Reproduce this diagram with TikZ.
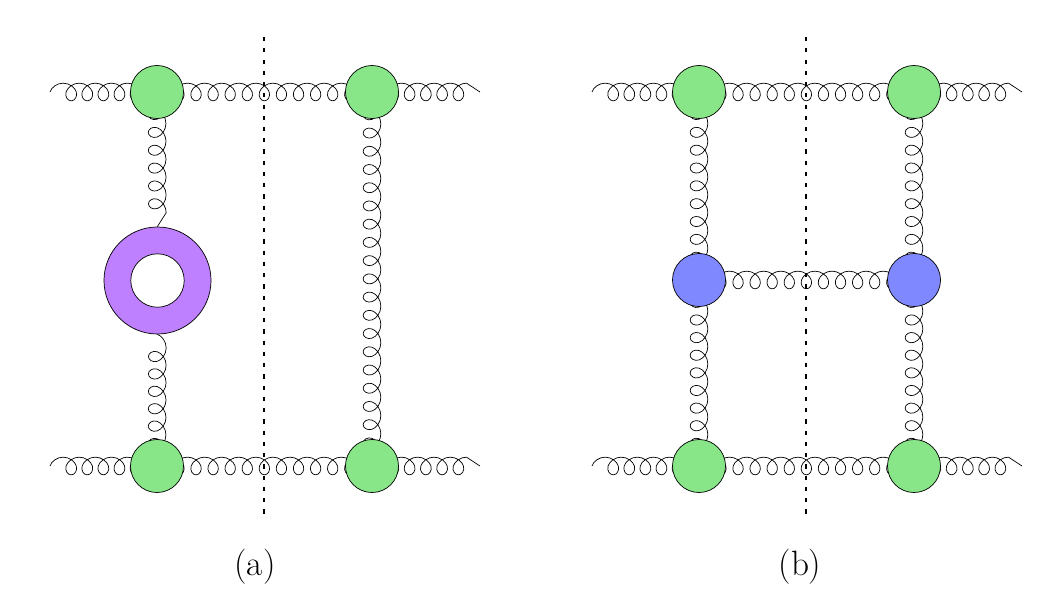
\documentclass[tikz,border=0pt]{standalone}
\usetikzlibrary{decorations}
\definecolor{vgreen}{RGB}{136,230,136}
\definecolor{vpurple}{RGB}{191,128,255}
\definecolor{vblue}{RGB}{128,136,255}
\pgfdeclarelayer{bg}
\pgfsetlayers{bg,main}
\def\glamp{6.3}
\def\glbb{6.5}
\def\glsz{12}
\pgfdeclaredecoration{gluonloops}{init}{
  \state{init}[width=0pt, next state=first, persistent precomputation={%
    \pgfmathsetmacro\glL{\pgfdecoratedpathlength}%
    \pgfmathsetmacro\glN{max(1,round((\glL-2*\glbb)/\glsz-0.5))}%
    \pgfmathsetmacro\glS{(\glL-2*\glbb-0.2)/(\glN+0.5)}%
    \pgfmathsetmacro\glK{\glS/(2*pi)}%
    \pgfmathsetmacro\glQ{\glS/4+\glbb}%
    \pgfmathsetmacro\glT{\glQ+\glS/2}%
    \pgfmathsetmacro\glhk{\glK*pi/6}%
    \pgfmathsetmacro\glha{\glamp*pi/6}%
    \pgfmathsetmacro\glhkb{(\glK+\glbb)*pi/6}%
    \pgfmathsetmacro\glhkmb{(\glK-\glbb)*pi/6}%
    \pgfmathsetmacro\glxa{\glS/4+\glbb}%
    \pgfmathsetmacro\glxb{\glS/2}%
    \pgfmathsetmacro\glxc{3*\glS/4-\glbb}%
    \xdef\glS{\glS}\xdef\glK{\glK}\xdef\glQ{\glQ}\xdef\glT{\glT}%
    \xdef\glhk{\glhk}\xdef\glha{\glha}\xdef\glhkb{\glhkb}\xdef\glhkmb{\glhkmb}%
    \xdef\glxa{\glxa}\xdef\glxb{\glxb}\xdef\glxc{\glxc}%
  }]{}
  \state{first}[width=\glQ pt, next state=loop]{%
    \pgfpathcurveto{\pgfpoint{\glhk pt}{\glha pt}}%
      {\pgfpoint{\glQ pt-\glhkb pt}{\glamp pt}}%
      {\pgfpoint{\glQ pt}{\glamp pt}}%
  }
  \state{loop}[width=\glS pt, switch if less than=\glT pt to last]{%
    \pgfpathcurveto{\pgfpoint{\glhkb pt}{\glamp pt}}%
      {\pgfpoint{\glxa pt-\glhk pt}{\glha pt}}%
      {\pgfpoint{\glxa pt}{0pt}}%
    \pgfpathcurveto{\pgfpoint{\glxa pt+\glhk pt}{-\glha pt}}%
      {\pgfpoint{\glxb pt-\glhkmb pt}{-\glamp pt}}%
      {\pgfpoint{\glxb pt}{-\glamp pt}}%
    \pgfpathcurveto{\pgfpoint{\glxb pt+\glhkmb pt}{-\glamp pt}}%
      {\pgfpoint{\glxc pt-\glhk pt}{-\glha pt}}%
      {\pgfpoint{\glxc pt}{0pt}}%
    \pgfpathcurveto{\pgfpoint{\glxc pt+\glhk pt}{\glha pt}}%
      {\pgfpoint{\glS pt-\glhkb pt}{\glamp pt}}%
      {\pgfpoint{\glS pt}{\glamp pt}}%
  }
  \state{last}[width=\glQ pt, next state=final]{%
    \pgfpathcurveto{\pgfpoint{\glhkb pt}{\glamp pt}}%
      {\pgfpoint{\glQ pt-\glhk pt}{\glha pt}}%
      {\pgfpoint{\glQ pt}{0pt}}%
  }
  \state{final}{\pgfpathlineto{\pgfpointdecoratedpathlast}}
}
\tikzset{
  gluon/.style={decorate, decoration={gluonloops}, line width=0.5pt, /utils/exec={\def\glsz{#1}}},
  gluon/.default=12,
  vgr/.style={circle, draw, line width=0.5pt, fill=vgreen, minimum size=1.325cm, inner sep=0pt},
  vbl/.style={circle, draw, line width=0.5pt, fill=vblue, minimum size=1.325cm, inner sep=0pt},
  ringout/.style={circle, draw, line width=0.5pt, fill=vpurple, minimum size=2.675cm, inner sep=0pt},
  ringin/.style={circle, draw, line width=0.5pt, fill=white, minimum size=1.335cm, inner sep=0pt},
  cut/.style={line width=0.8pt, dash pattern=on 3pt off 5pt},
  lab/.style={anchor=base, font=\fontsize{25}{30}\selectfont, inner sep=0pt}
}
\begin{document}
\begin{tikzpicture}[x=0.025cm, y=-0.025cm]
\useasboundingbox (0,0) rectangle (1057,612);
% panel (a)
\coordinate (a1) at (50,92);
\coordinate (a2) at (480,92);
\coordinate (a3) at (50,466);
\coordinate (a4) at (480,466);
\coordinate (ac1) at (264,37);
\coordinate (ac2) at (264,515);
\node[vgr] (atl) at (157,92) {};
\node[vgr] (atr) at (372,92) {};
\node[vgr] (abl) at (157,466) {};
\node[vgr] (abr) at (372,466) {};
\node[ringout] (ring) at (157.5,280.5) {};
\node[ringin] (ringi) at (157.5,280.5) {};
\begin{pgfonlayer}{bg}
\draw[gluon=11.5] (a1) -- (atl.center);
\draw[gluon] (atl.center) -- (atr.center);
\draw[gluon=11.5] (atr.center) -- (a2);
\draw[gluon=11.5] (a3) -- (abl.center);
\draw[gluon] (abl.center) -- (abr.center);
\draw[gluon=11.5] (abr.center) -- (a4);
\draw[gluon=13] (atl.center) -- (ring);
\draw[gluon=13] (ring) -- (abl.center);
\draw[gluon=13] (atr.center) -- (abr.center);
\end{pgfonlayer}
\draw[cut] (ac1) -- (ac2);
\node[lab] (la) at (255,575) {(a)};
% panel (b)
\coordinate (b1) at (592,92);
\coordinate (b2) at (1022,92);
\coordinate (b3) at (592,466);
\coordinate (b4) at (1022,466);
\coordinate (bc1) at (806,37);
\coordinate (bc2) at (806,515);
\node[vgr] (btl) at (699,92) {};
\node[vgr] (btr) at (914,92) {};
\node[vgr] (bbl) at (699,466) {};
\node[vgr] (bbr) at (914,466) {};
\node[vbl] (bml) at (699,280) {};
\node[vbl] (bmr) at (914,280) {};
\begin{pgfonlayer}{bg}
\draw[gluon=11.5] (b1) -- (btl.center);
\draw[gluon] (btl.center) -- (btr.center);
\draw[gluon=11.5] (btr.center) -- (b2);
\draw[gluon=11.5] (b3) -- (bbl.center);
\draw[gluon] (bbl.center) -- (bbr.center);
\draw[gluon=11.5] (bbr.center) -- (b4);
\draw[gluon=13] (btl.center) -- (bml.center);
\draw[gluon=13] (bml.center) -- (bbl.center);
\draw[gluon=13] (btr.center) -- (bmr.center);
\draw[gluon=13] (bmr.center) -- (bbr.center);
\draw[gluon] (bml.center) -- (bmr.center);
\end{pgfonlayer}
\draw[cut] (bc1) -- (bc2);
\node[lab] (lb) at (800,575) {(b)};
\end{tikzpicture}
\end{document}
